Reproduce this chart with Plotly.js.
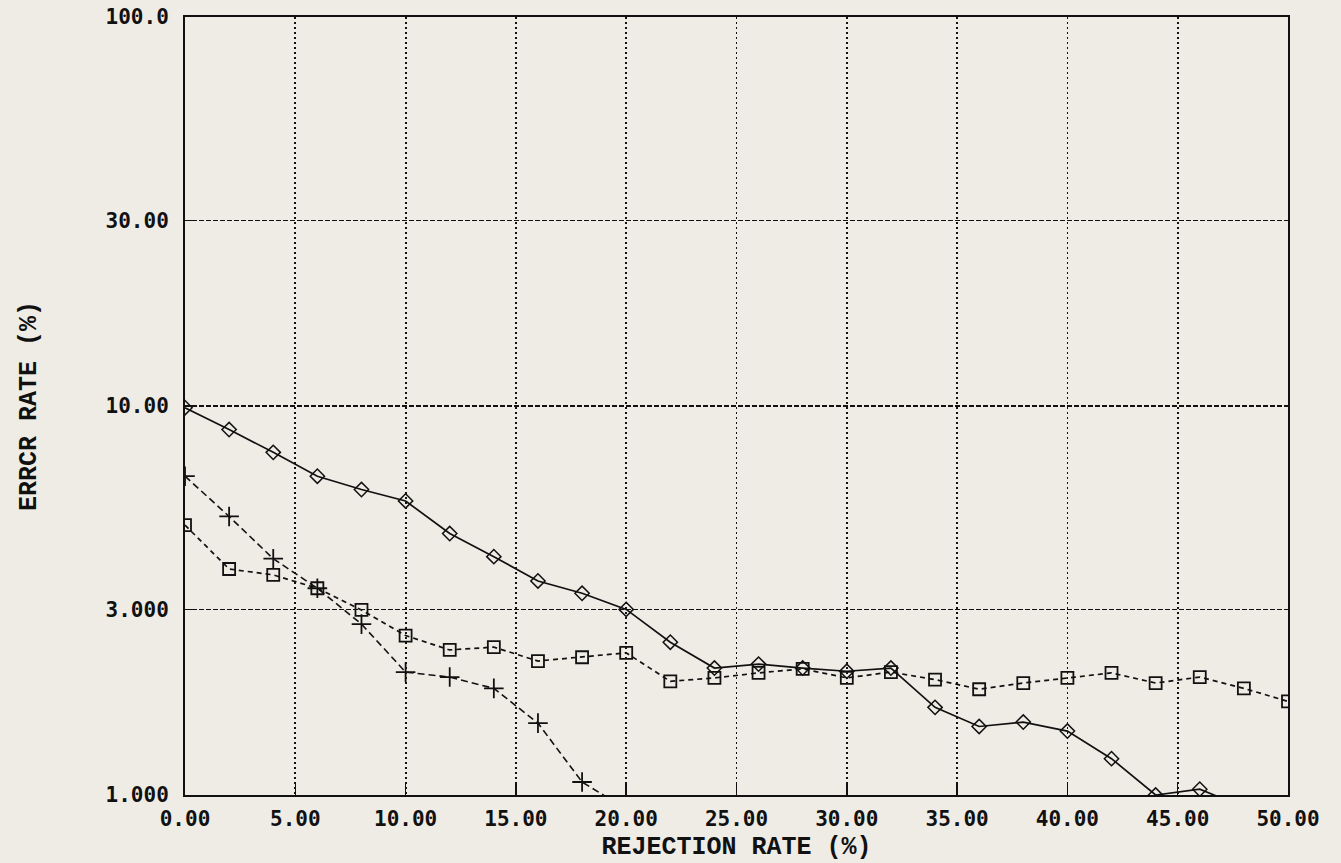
<!DOCTYPE html>
<html>
<head>
<meta charset="utf-8">
<script src="https://cdn.plot.ly/plotly-3.0.1.min.js"></script>
<style>
  html, body { margin: 0; padding: 0; background: #efece6; }
  #chart { width: 1341px; height: 863px; }
</style>
</head>
<body>
<div id="chart"></div>
<script>
// Rejection rate (%) sample points
const xDiamond = [0, 2, 4, 6, 8, 10, 12, 14, 16, 18, 20, 22, 24, 26, 28, 30, 32, 34, 36, 38, 40, 42, 44, 46, 48];
const errDiamond = [9.9, 8.7, 7.6, 6.6, 6.1, 5.7, 4.7, 4.1, 3.55, 3.3, 3.0, 2.47, 2.12, 2.17, 2.12, 2.08, 2.12, 1.68, 1.50, 1.54, 1.46, 1.24, 1.0, 1.035, 0.93];

const xPlus = [0, 2, 4, 6, 8, 10, 12, 14, 16, 18, 20];
const errPlus = [6.6, 5.2, 4.05, 3.4, 2.75, 2.07, 2.01, 1.88, 1.53, 1.08, 0.92];

const xSquare = [0, 2, 4, 6, 8, 10, 12, 14, 16, 18, 20, 22, 24, 26, 28, 30, 32, 34, 36, 38, 40, 42, 44, 46, 48, 50];
const errSquare = [4.94, 3.81, 3.68, 3.40, 2.99, 2.57, 2.36, 2.40, 2.21, 2.26, 2.32, 1.96, 2.00, 2.06, 2.11, 2.00, 2.07, 1.98, 1.87, 1.94, 2.00, 2.06, 1.94, 2.01, 1.88, 1.74];

const xTickVals = [0, 5, 10, 15, 20, 25, 30, 35, 40, 45, 50];
const xTickText = ["0.00", "5.00", "10.00", "15.00", "20.00", "25.00", "30.00", "35.00", "40.00", "45.00", "50.00"];
const yTickVals = [1, 3, 10, 30, 100];
const yTickText = ["1.000", "3.000", "10.00", "30.00", "100.0"];

const bg = "#efece6";
const ink = "#111111";

const traces = [
  {
    x: xSquare, y: errSquare, type: "scatter", mode: "lines+markers", name: "square",
    line: { color: ink, width: 1.7, dash: "5px,4px" },
    marker: { symbol: "square-open", size: 12, color: ink, line: { width: 1.8, color: ink } }
  },
  {
    x: xPlus, y: errPlus, type: "scatter", mode: "lines+markers", name: "plus",
    line: { color: ink, width: 1.6, dash: "7px,4px" },
    marker: { symbol: "cross-thin-open", size: 14, color: ink, line: { width: 1.8, color: ink } }
  },
  {
    x: xDiamond, y: errDiamond, type: "scatter", mode: "lines+markers", name: "diamond",
    line: { color: ink, width: 1.7 },
    marker: { symbol: "diamond-open", size: 11, color: ink, line: { width: 1.5, color: ink } }
  }
];

const layout = {
  width: 1341, height: 863,
  paper_bgcolor: bg, plot_bgcolor: bg,
  showlegend: false,
  margin: { l: 185, r: 53, t: 17, b: 68 },
  xaxis: {
    range: [0, 50],
    tickvals: xTickVals, ticktext: xTickText,
    ticks: "inside", ticklen: 12, tickwidth: 1.5, tickcolor: ink,
    ticklabelstandoff: 4,
    showgrid: true, gridcolor: ink, gridwidth: 1.8, griddash: "2px,3px",
    showline: true, linecolor: ink, linewidth: 2, mirror: true,
    zeroline: false,
    tickfont: { family: "DejaVu Sans Mono", size: 21, color: ink, weight: "bold" },
    title: { text: "REJECTION RATE (%)", standoff: 6,
             font: { family: "Liberation Mono", size: 25, color: ink, weight: "bold" } }
  },
  yaxis: {
    type: "log", range: [0, 2],
    tickvals: yTickVals, ticktext: yTickText,
    ticks: "inside", ticklen: 12, tickwidth: 1.5, tickcolor: ink,
    ticklabelstandoff: 10,
    showgrid: true, gridcolor: ink, gridwidth: 1.8, griddash: "5px,2px",
    showline: true, linecolor: ink, linewidth: 2, mirror: true,
    zeroline: false,
    tickfont: { family: "DejaVu Sans Mono", size: 21, color: ink, weight: "bold" },
    title: { text: "ERRCR RATE (%)", standoff: 62,
             font: { family: "Liberation Mono", size: 25, color: ink, weight: "bold" } }
  }
};

Plotly.newPlot("chart", traces, layout, { displayModeBar: false, staticPlot: true });
</script>
</body>
</html>
